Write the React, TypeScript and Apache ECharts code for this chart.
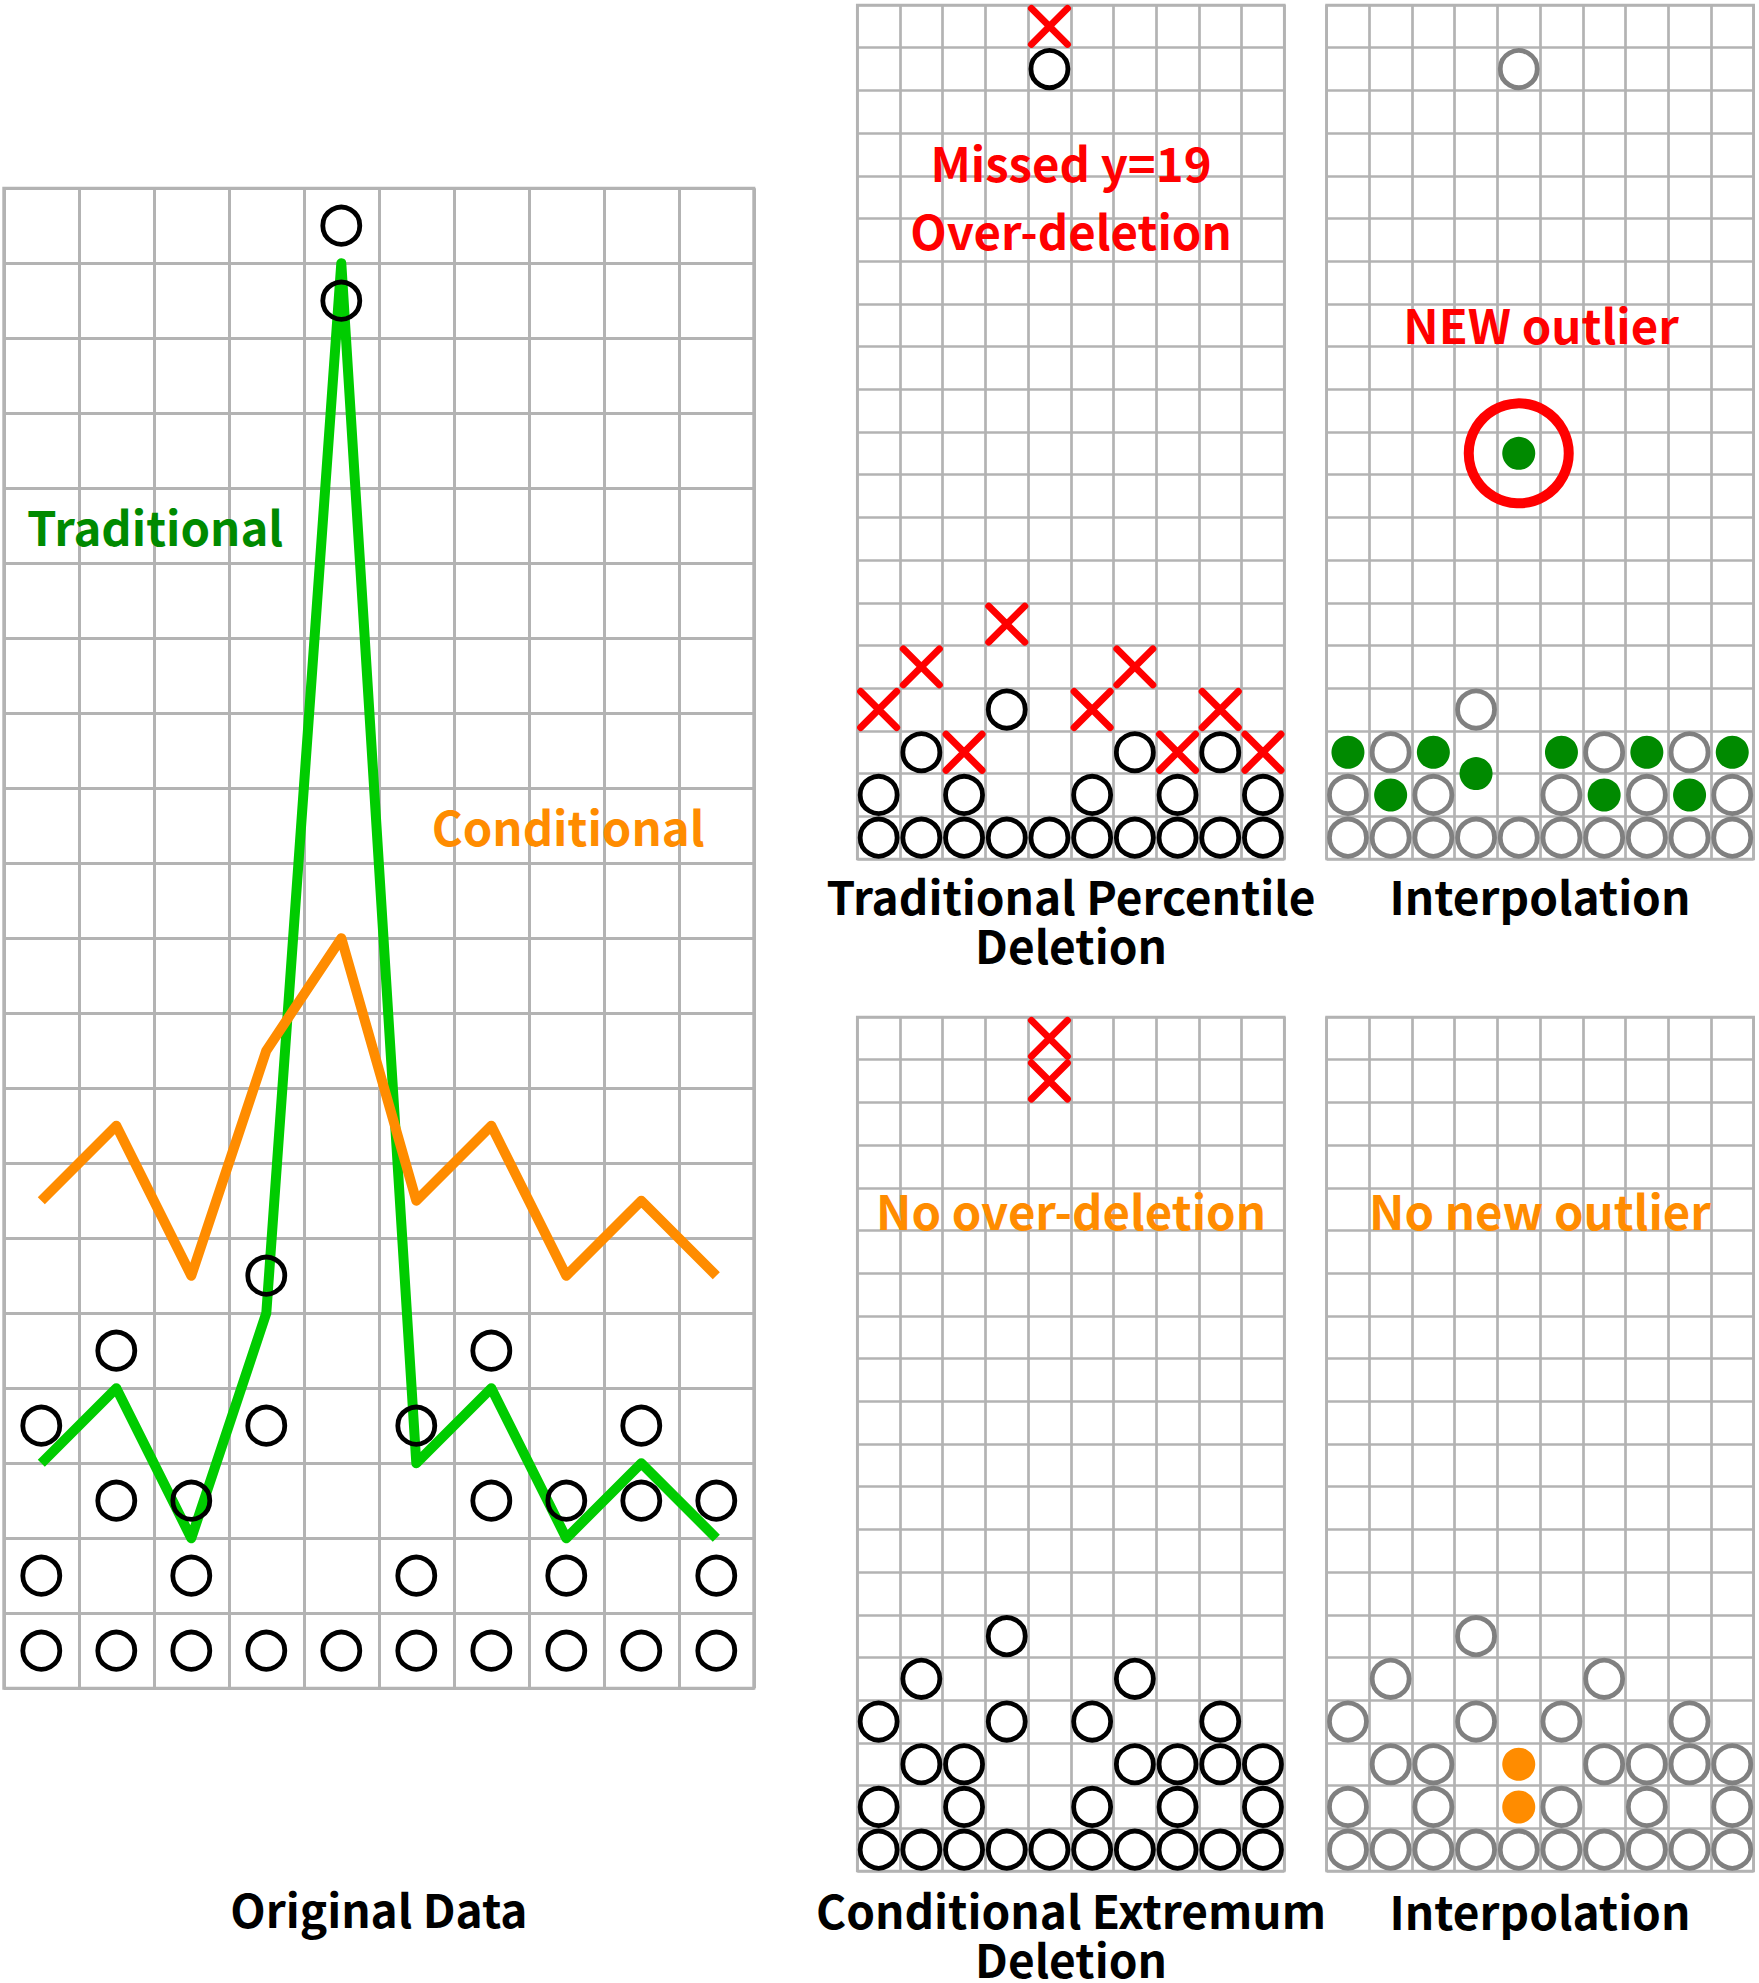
import React, { useEffect, useRef } from "react";
import * as echarts from "echarts";

// ---- data (levels are cell rows counted from the bottom, 1..20) ----
const columnCount = 10;
const levelCount = 20;

const originalLevels = [[1, 2, 4], [1, 3, 5], [1, 2, 3], [1, 4, 6], [1, 19, 20], [1, 2, 4], [1, 3, 5], [1, 2, 3], [1, 3, 4], [1, 2, 3]];
// line values are on the axis scale (grid lines)
const traditionalLine = [3, 4, 2, 5, 19, 3, 4, 2, 3, 2];
const conditionalLine = [6.5, 7.5, 5.5, 8.5, 10, 6.5, 7.5, 5.5, 6.5, 5.5];

const percentileKept = [[1, 2], [1, 3], [1, 2], [1, 4], [1, 19], [1, 2], [1, 3], [1, 2], [1, 3], [1, 2]];
const percentileDeleted = [[4], [5], [3], [6], [20], [4], [5], [3], [4], [3]];
const percentileInterpolated = [[3], [2], [3], [2.5], [10], [3], [2], [3], [2], [3]];
const newOutlier = [[4, 10]];

const conditionalKept = [[1, 2, 4], [1, 3, 5], [1, 2, 3], [1, 4, 6], [1], [1, 2, 4], [1, 3, 5], [1, 2, 3], [1, 3, 4], [1, 2, 3]];
const conditionalDeleted = [[], [], [], [], [19, 20], [], [], [], [], []];
const conditionalInterpolated = [[], [], [], [], [2, 3], [], [], [], [], []];

// ---- styling ----
const FONT = '"Noto Sans CJK SC", "Noto Sans", sans-serif';
const FS_TITLE = 46;
const FS_NOTE = 47.3;
const GRID_COLOR = "#b3b3b3";
const GREEN_LINE = "#00cc00";
const GREEN_DARK = "#008a00";
const ORANGE = "#ff8c00";
const RED = "#ff0000";
const GRAY = "#808080";
const CROSS = "path://M0,0L10,10M10,0L0,10";

const toPoints = (levels: number[][]) => {
  const out: number[][] = [];
  levels.forEach((col, c) => col.forEach((k) => out.push([c + 0.5, k - 0.5])));
  return out;
};

const grids = [
  { left: 3.8, top: 188.2, width: 750, height: 1500, lw: 3 },
  { left: 857.3, top: 5, width: 427, height: 854, lw: 2.7 },
  { left: 1326.6, top: 5, width: 427, height: 854, lw: 2.7 },
  { left: 857.3, top: 1017, width: 427, height: 854, lw: 2.7 },
  { left: 1326.6, top: 1017, width: 427, height: 854, lw: 2.7 },
];

const circleSeries = (gi: number, levels: number[][], color: string) => ({
  type: "scatter",
  xAxisIndex: gi,
  yAxisIndex: gi,
  data: toPoints(levels),
  symbol: "circle",
  symbolSize: 37,
  z: 5,
  itemStyle: { color: "none", borderColor: color, borderWidth: 4.8, opacity: 1 },
  silent: true,
});

const dotSeries = (gi: number, levels: number[][], color: string) => ({
  type: "scatter",
  xAxisIndex: gi,
  yAxisIndex: gi,
  data: toPoints(levels),
  symbol: "circle",
  symbolSize: 33,
  z: 6,
  itemStyle: { color, borderWidth: 0, opacity: 1 },
  silent: true,
});

const crossSeries = (gi: number, levels: number[][]) => ({
  type: "scatter",
  xAxisIndex: gi,
  yAxisIndex: gi,
  data: toPoints(levels),
  symbol: CROSS,
  symbolSize: 36,
  z: 6,
  itemStyle: { color: "none", borderColor: RED, borderWidth: 7, borderCap: "round", opacity: 1 },
  silent: true,
});

const lineSeries = (values: number[], color: string, z: number) => ({
  type: "line",
  xAxisIndex: 0,
  yAxisIndex: 0,
  data: values.map((v, c) => [c + 0.5, v]),
  symbol: "none",
  z,
  lineStyle: { color, width: 10, join: "round", cap: "butt", opacity: 1 },
  silent: true,
});

const txt = (
  text: string,
  x: number,
  y: number,
  fill: string,
  fontSize: number,
  align = "center",
  lineHeight?: number
) => ({
  type: "text",
  x,
  y,
  z: 100,
  style: {
    text,
    fill,
    fontFamily: FONT,
    fontWeight: "bold",
    fontSize,
    align,
    verticalAlign: "middle",
    ...(lineHeight ? { lineHeight } : {}),
  },
});

export default function App() {
  const ref = useRef<HTMLDivElement>(null);
  useEffect(() => {
    if (!ref.current) return;
    const chart = echarts.init(ref.current, undefined, { renderer: "svg" });
    const axisCommon = {
      type: "value",
      axisLine: { show: false },
      axisTick: { show: false },
      axisLabel: { show: false },
    };
    chart.setOption({
      animation: false,
      backgroundColor: "#ffffff",
      grid: grids.map((g) => ({
        left: g.left,
        top: g.top,
        width: g.width,
        height: g.height,
        show: true,
        borderColor: GRID_COLOR,
        borderWidth: g.lw,
        backgroundColor: "transparent",
      })),
      xAxis: grids.map((g, i) => ({
        ...axisCommon,
        gridIndex: i,
        min: 0,
        max: columnCount,
        interval: 1,
        splitLine: { show: true, lineStyle: { color: GRID_COLOR, width: g.lw } },
      })),
      yAxis: grids.map((g, i) => ({
        ...axisCommon,
        gridIndex: i,
        min: 0,
        max: levelCount,
        interval: 1,
        splitLine: { show: true, lineStyle: { color: GRID_COLOR, width: g.lw } },
      })),
      series: [
        lineSeries(traditionalLine, GREEN_LINE, 3),
        lineSeries(conditionalLine, ORANGE, 4),
        circleSeries(0, originalLevels, "#000000"),
        circleSeries(1, percentileKept, "#000000"),
        crossSeries(1, percentileDeleted),
        circleSeries(2, percentileKept, GRAY),
        dotSeries(2, percentileInterpolated, GREEN_DARK),
        {
          type: "scatter",
          xAxisIndex: 2,
          yAxisIndex: 2,
          data: newOutlier.map(([c, k]) => [c + 0.5, k - 0.5]),
          symbol: "circle",
          symbolSize: 100,
          z: 7,
          itemStyle: { color: "none", borderColor: RED, borderWidth: 10, opacity: 1 },
          silent: true,
        },
        circleSeries(3, conditionalKept, "#000000"),
        crossSeries(3, conditionalDeleted),
        circleSeries(4, conditionalKept, GRAY),
        dotSeries(4, conditionalInterpolated, ORANGE),
      ],
      graphic: [
        txt("Traditional", 27, 525, GREEN_DARK, FS_NOTE, "left"),
        txt("Conditional", 431.7, 825, ORANGE, FS_NOTE, "left"),
        txt("Missed y=19\nOver-deletion", 1071, 195.5, RED, FS_NOTE, "center", 68.5),
        txt("NEW outlier", 1541, 323.5, RED, FS_NOTE),
        txt("Traditional Percentile\nDeletion", 1071, 919.5, "#000000", FS_TITLE, "center", 49.5),
        txt("Interpolation", 1540, 894.5, "#000000", FS_TITLE),
        txt("No over-deletion", 1071, 1209.5, ORANGE, FS_NOTE),
        txt("No new outlier", 1540, 1209.5, ORANGE, FS_NOTE),
        txt("Original Data", 378.8, 1908, "#000000", FS_TITLE),
        txt("Conditional Extremum\nDeletion", 1071, 1933.5, "#000000", FS_TITLE, "center", 48.5),
        txt("Interpolation", 1540, 1909.5, "#000000", FS_TITLE),
      ],
    });
    return () => chart.dispose();
  }, []);
  return (
    <div
      ref={ref}
      style={{ position: "absolute", left: 0, top: 0, width: 1759, height: 1983, background: "#fff" }}
    />
  );
}
